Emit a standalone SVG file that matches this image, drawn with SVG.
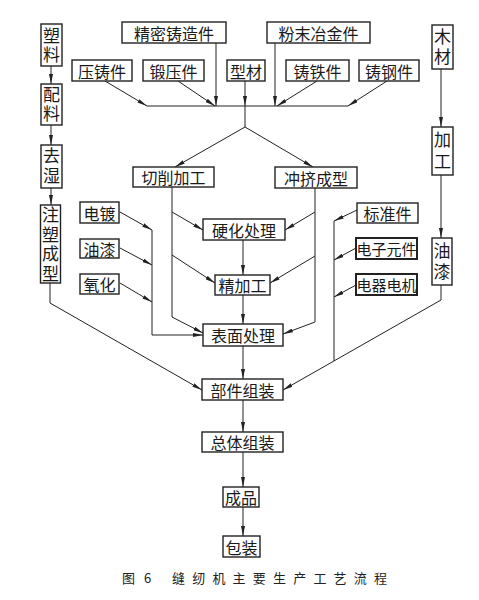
<svg xmlns="http://www.w3.org/2000/svg" width="479" height="600" viewBox="0 0 479 600">
<style>
.b rect{fill:#fff;stroke:#222;stroke-width:1.4}
.b text{font-family:"Noto Sans CJK SC","Noto Sans CJK JP",sans-serif;font-size:16px;fill:#1a1a1a;text-anchor:middle;dominant-baseline:central}
.v text{font-size:17px;writing-mode:vertical-rl}
.k rect{stroke-width:2}
.k text{font-size:15px}
.c path{fill:none;stroke:#222;stroke-width:1}
.cap{font-family:"Noto Sans CJK SC","Noto Sans CJK JP",sans-serif;font-size:13px;fill:#222}
</style>
<defs>
<marker id="a" viewBox="0 0 10 4" refX="10" refY="2" markerWidth="10" markerHeight="4" markerUnits="userSpaceOnUse" orient="auto">
<path d="M0,0 L10,2 L0,4 z" fill="#222"/>
</marker>
</defs>
<rect width="479" height="600" fill="#fff"/>
<g class="c">
<path d="M51,66 V84" marker-end="url(#a)"/>
<path d="M51,125 V145" marker-end="url(#a)"/>
<path d="M51,188 V205" marker-end="url(#a)"/>
<path d="M50,283 V303 L202,390" marker-end="url(#a)"/>
<path d="M147,106 H348"/>
<path d="M105,81 L147,106" marker-end="url(#a)"/>
<path d="M178,81 L215,106" marker-end="url(#a)"/>
<path d="M216,43 V106" marker-end="url(#a)"/>
<path d="M245,81 V106" marker-end="url(#a)"/>
<path d="M275,43 V106" marker-end="url(#a)"/>
<path d="M317,81 L277,106" marker-end="url(#a)"/>
<path d="M387,81 L348,106" marker-end="url(#a)"/>
<path d="M245,106 V127 L175,167" marker-end="url(#a)"/>
<path d="M245,127 L313,167" marker-end="url(#a)"/>
<path d="M172,187 V317 L203,333" marker-end="url(#a)"/>
<path d="M172,212 L203,230" marker-end="url(#a)"/>
<path d="M172,255 L215,283" marker-end="url(#a)"/>
<path d="M315,188 V322 L283,334" marker-end="url(#a)"/>
<path d="M315,212 L285,230" marker-end="url(#a)"/>
<path d="M315,256 L270,283" marker-end="url(#a)"/>
<path d="M120,212 L152,230" marker-end="url(#a)"/>
<path d="M120,248 L152,265" marker-end="url(#a)"/>
<path d="M120,283 L152,302" marker-end="url(#a)"/>
<path d="M152,230 V335 H203" marker-end="url(#a)"/>
<path d="M243,240 V275" marker-end="url(#a)"/>
<path d="M243,295 V324" marker-end="url(#a)"/>
<path d="M243,346 V379" marker-end="url(#a)"/>
<path d="M243,400 V432" marker-end="url(#a)"/>
<path d="M243,452 V487" marker-end="url(#a)"/>
<path d="M243,507 V536" marker-end="url(#a)"/>
<path d="M357,210 L334,221" marker-end="url(#a)"/>
<path d="M356,248 L334,260" marker-end="url(#a)"/>
<path d="M356,285 L334,297" marker-end="url(#a)"/>
<path d="M334,221 V361"/>
<path d="M441,69 V127" marker-end="url(#a)"/>
<path d="M441,175 V238" marker-end="url(#a)"/>
<path d="M441,285 V300 L283,390" marker-end="url(#a)"/>
</g>
<g class="b">
<g id="n-suliao" class="v"><rect x="41" y="24" width="21" height="42"/><text x="51.5" y="46" letter-spacing="2">塑料</text></g>
<g id="n-peiliao" class="v"><rect x="41" y="84" width="21" height="41"/><text x="51.5" y="105.5" letter-spacing="2">配料</text></g>
<g id="n-qushi" class="v"><rect x="41" y="145" width="21" height="43"/><text x="51.5" y="167.5" letter-spacing="3">去湿</text></g>
<g id="n-zhusu" class="v"><rect x="40.5" y="205" width="20" height="78"/><text x="50.5" y="245.5" letter-spacing="2.5">注塑成型</text></g>
<g id="n-jingmi"><rect x="122" y="22" width="104" height="21"/><text x="174" y="32.5">精密铸造件</text></g>
<g id="n-fenmo"><rect x="267" y="22" width="103" height="21"/><text x="318.5" y="32.5">粉末冶金件</text></g>
<g id="n-mucai" class="v"><rect x="432" y="25" width="21" height="44"/><text x="442.5" y="48.5" letter-spacing="3">木材</text></g>
<g id="n-yazhu"><rect x="72" y="60" width="60" height="21"/><text x="102" y="70.5">压铸件</text></g>
<g id="n-duanya"><rect x="143" y="60" width="61" height="21"/><text x="173.5" y="70.5">锻压件</text></g>
<g id="n-xingcai"><rect x="227" y="60" width="38" height="21"/><text x="246" y="70.5">型材</text></g>
<g id="n-zhutie"><rect x="286" y="60" width="63" height="21"/><text x="317.5" y="70.5">铸铁件</text></g>
<g id="n-zhugang"><rect x="359" y="60" width="60" height="21"/><text x="389" y="70.5">铸钢件</text></g>
<g id="n-jiagong" class="v"><rect x="432" y="127" width="21" height="48"/><text x="442.5" y="153" letter-spacing="5">加工</text></g>
<g id="n-qiexiao"><rect x="133" y="167" width="81" height="20"/><text x="173.5" y="177">切削加工</text></g>
<g id="n-chongji"><rect x="275" y="167" width="82" height="21"/><text x="316" y="177.5">冲挤成型</text></g>
<g id="n-diandu"><rect x="80" y="202" width="39" height="21"/><text x="99.5" y="212.5">电镀</text></g>
<g id="n-youqi1"><rect x="80" y="239" width="39" height="19"/><text x="99.5" y="248.5">油漆</text></g>
<g id="n-yanghua"><rect x="80" y="274" width="39" height="20"/><text x="99.5" y="284">氧化</text></g>
<g id="n-yinghua"><rect x="203" y="219" width="82" height="21"/><text x="244" y="229.5">硬化处理</text></g>
<g id="n-jingjia"><rect x="215" y="275" width="55" height="20"/><text x="242.5" y="285">精加工</text></g>
<g id="n-biaomian"><rect x="203" y="324" width="80" height="22"/><text x="243" y="335">表面处理</text></g>
<g id="n-biaozhun"><rect x="357" y="203" width="61" height="20"/><text x="387.5" y="213">标准件</text></g>
<g id="n-dianzi" class="k"><rect x="356" y="238" width="61" height="21"/><text x="386.5" y="248.5">电子元件</text></g>
<g id="n-dianqi" class="k"><rect x="356" y="274" width="61" height="21"/><text x="386.5" y="284.5">电器电机</text></g>
<g id="n-youqi2" class="v"><rect x="432" y="238" width="20" height="47"/><text x="442" y="263" letter-spacing="4">油漆</text></g>
<g id="n-bujian"><rect x="202" y="379" width="81" height="21"/><text x="242.5" y="389.5">部件组装</text></g>
<g id="n-zongti"><rect x="202" y="432" width="81" height="20"/><text x="242.5" y="442">总体组装</text></g>
<g id="n-chengpin"><rect x="223" y="487" width="36" height="20"/><text x="241" y="497">成品</text></g>
<g id="n-baozhuang"><rect x="223" y="536" width="37" height="21"/><text x="241.5" y="546.5">包装</text></g>
</g>
<g id="caption">
<text class="cap" x="122" y="583">图</text>
<text class="cap" x="144" y="583">6</text>
<text class="cap" x="172" y="583" letter-spacing="7.2">缝纫机主要生产工艺流程</text>
</g>
</svg>
